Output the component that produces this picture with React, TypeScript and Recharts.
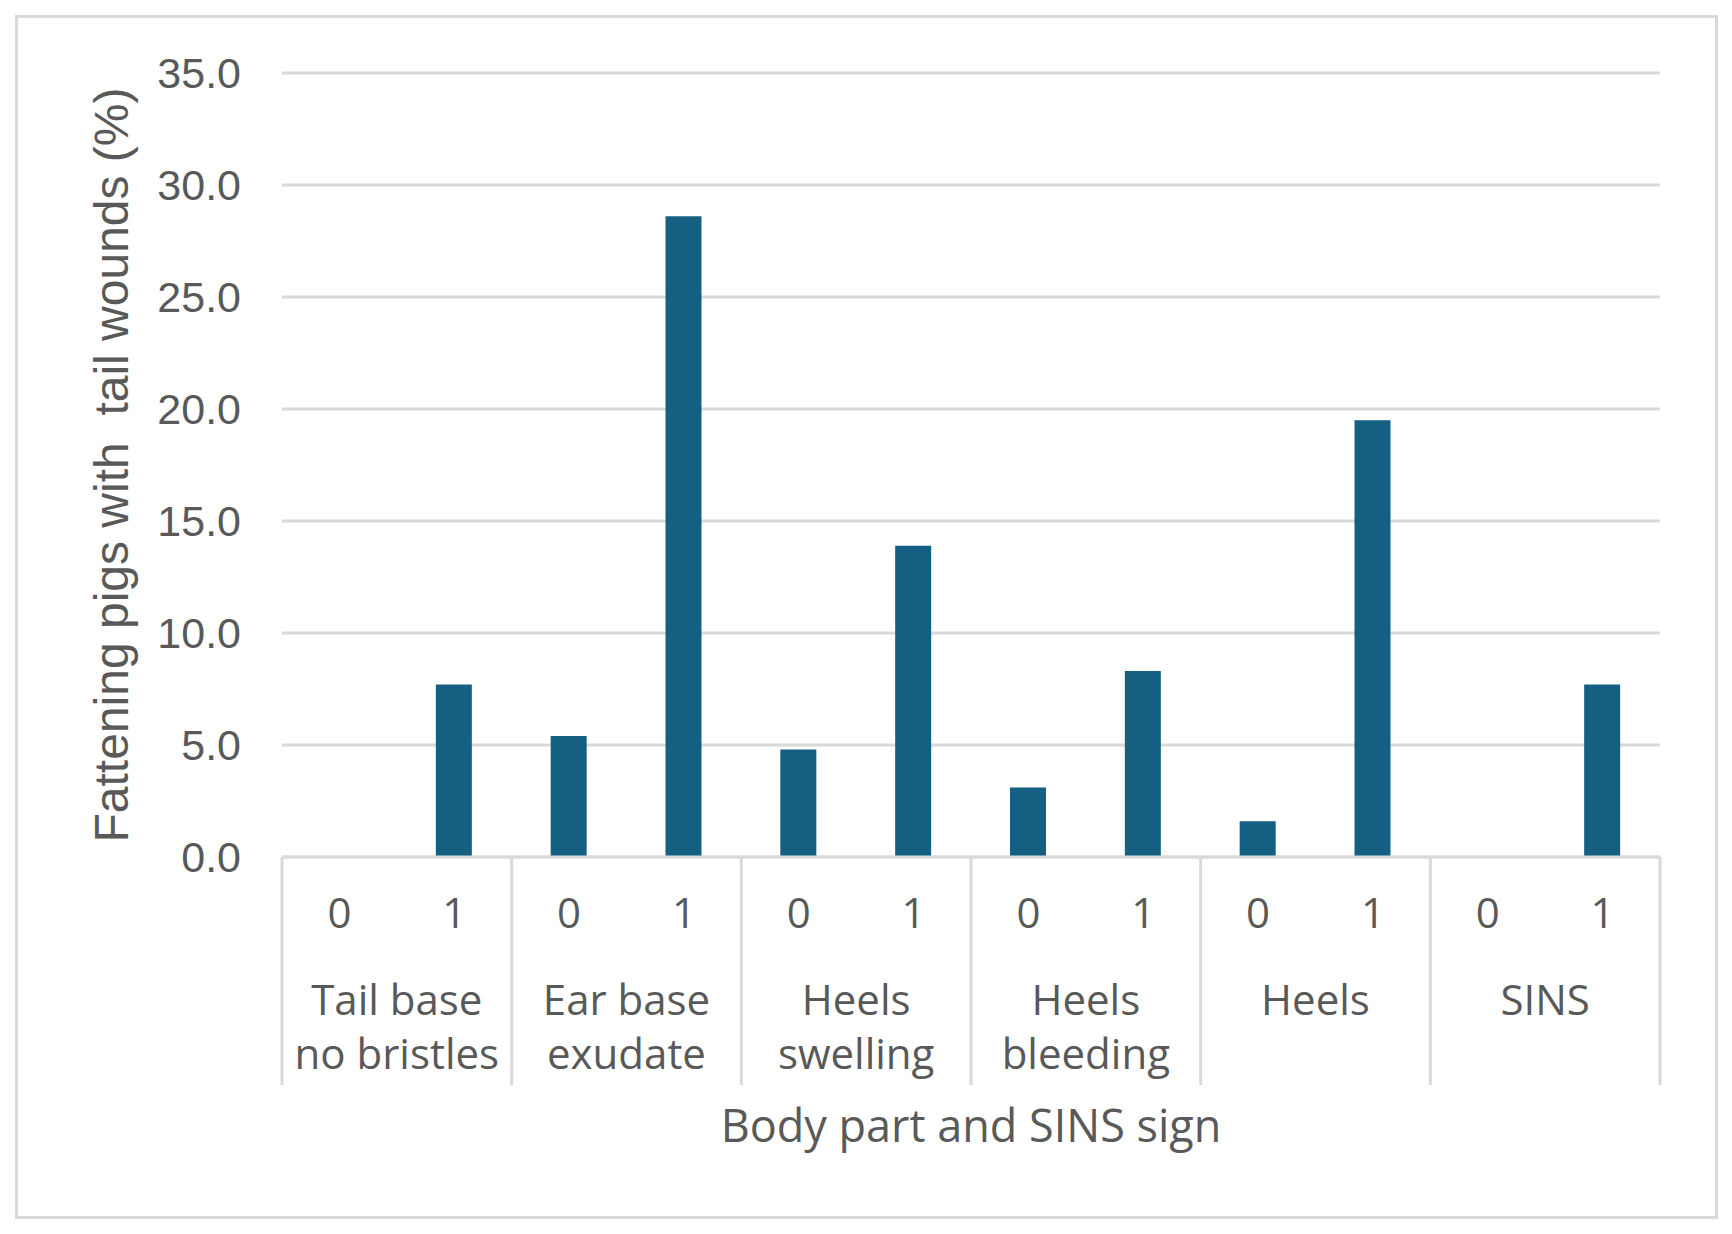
import { BarChart, Bar, XAxis, YAxis, CartesianGrid, Label } from "recharts";

const signs = ["0", "1"];
const groupLabels = [
  ["Tail base", "no bristles"],
  ["Ear base", "exudate"],
  ["Heels", "swelling"],
  ["Heels", "bleeding"],
  ["Heels"],
  ["SINS"],
];
// two values per group: sign 0, sign 1
const woundShare = [0, 7.7, 5.4, 28.6, 4.8, 13.9, 3.1, 8.3, 1.6, 19.5, 0, 7.7];
const yTicks = [0, 5, 10, 15, 20, 25, 30, 35];

const data = woundShare.map((v, i) => ({
  key: i,
  sign: signs[i % 2],
  group: Math.floor(i / 2),
  value: v,
}));

const textColor = "#595959";
const lineColor = "#d9d9d9";
const xFont = "'Open Sans', sans-serif";
const yFont = "'Liberation Sans', Arial, sans-serif";

function CategoryTick(props: any) {
  const { x, y, payload, index, width } = props;
  const half = payload?.offset || width / data.length / 2;
  const row = data[index];
  const isFirst = index % 2 === 0;
  const isLast = index === data.length - 1;
  const lines = groupLabels[row.group];
  return (
    <g>
      <text
        x={x}
        y={y + 71}
        textAnchor="middle"
        fill={textColor}
        fontSize={42}
        fontFamily={xFont}
      >
        {row.sign}
      </text>
      {isFirst && (
        <>
          <line x1={x - half} x2={x - half} y1={y} y2={y + 228} stroke={lineColor} strokeWidth={3} />
          {lines.map((t, k) => (
            <text
              key={k}
              x={x + half}
              y={y + 158 + k * 54}
              textAnchor="middle"
              fill={textColor}
              fontSize={42}
              fontFamily={xFont}
            >
              {t}
            </text>
          ))}
        </>
      )}
      {isLast && (
        <line x1={x + half} x2={x + half} y1={y} y2={y + 228} stroke={lineColor} strokeWidth={3} />
      )}
    </g>
  );
}

export default function App() {
  return (
    <div style={{ position: "absolute", left: 0, top: 0, width: 1732, height: 1234, background: "#fff" }}>
      <div
        style={{
          position: "absolute",
          left: 15,
          top: 15,
          width: 1703,
          height: 1204,
          boxSizing: "border-box",
          border: `3px solid ${lineColor}`,
        }}
      />
      <div style={{ position: "absolute", left: 0, top: 0 }}>
        <BarChart
          width={1732}
          height={1234}
          data={data}
          margin={{ top: 73, right: 72, left: 0, bottom: 0 }}
        >
          <CartesianGrid vertical={false} stroke={lineColor} strokeWidth={3} />
          <XAxis
            dataKey="key"
            type="category"
            interval={0}
            height={377}
            tickSize={0}
            tickMargin={0}
            tickLine={false}
            axisLine={{ stroke: lineColor, strokeWidth: 3 }}
            tick={<CategoryTick />}
          >
            <Label
              content={({ viewBox }: any) => (
                <text
                  x={viewBox.x + viewBox.width / 2}
                  y={viewBox.y + 285}
                  textAnchor="middle"
                  fill={textColor}
                  fontSize={45}
                  fontFamily={xFont}
                >
                  Body part and SINS sign
                </text>
              )}
            />
          </XAxis>
          <YAxis
            width={282}
            domain={[0, 35]}
            ticks={yTicks}
            interval={0}
            tickFormatter={(v: number) => v.toFixed(1)}
            axisLine={false}
            tickLine={false}
            tickSize={0}
            tickMargin={41}
            tick={{ fill: textColor, fontSize: 43, fontFamily: yFont }}
          >
            <Label
              content={({ viewBox }: any) => {
                const cy = viewBox.y + viewBox.height / 2;
                return (
                  <text
                    x={128}
                    y={cy}
                    transform={`rotate(-90, 128, ${cy})`}
                    textAnchor="middle"
                    fill={textColor}
                    fontSize={48}
                    fontFamily={yFont}
                    style={{ whiteSpace: "pre" }}
                  >
                    {"Fattening pigs with  tail wounds (%)"}
                  </text>
                );
              }}
            />
          </YAxis>
          <Bar dataKey="value" fill="#156082" barSize={36} isAnimationActive={false} />
        </BarChart>
      </div>
    </div>
  );
}
